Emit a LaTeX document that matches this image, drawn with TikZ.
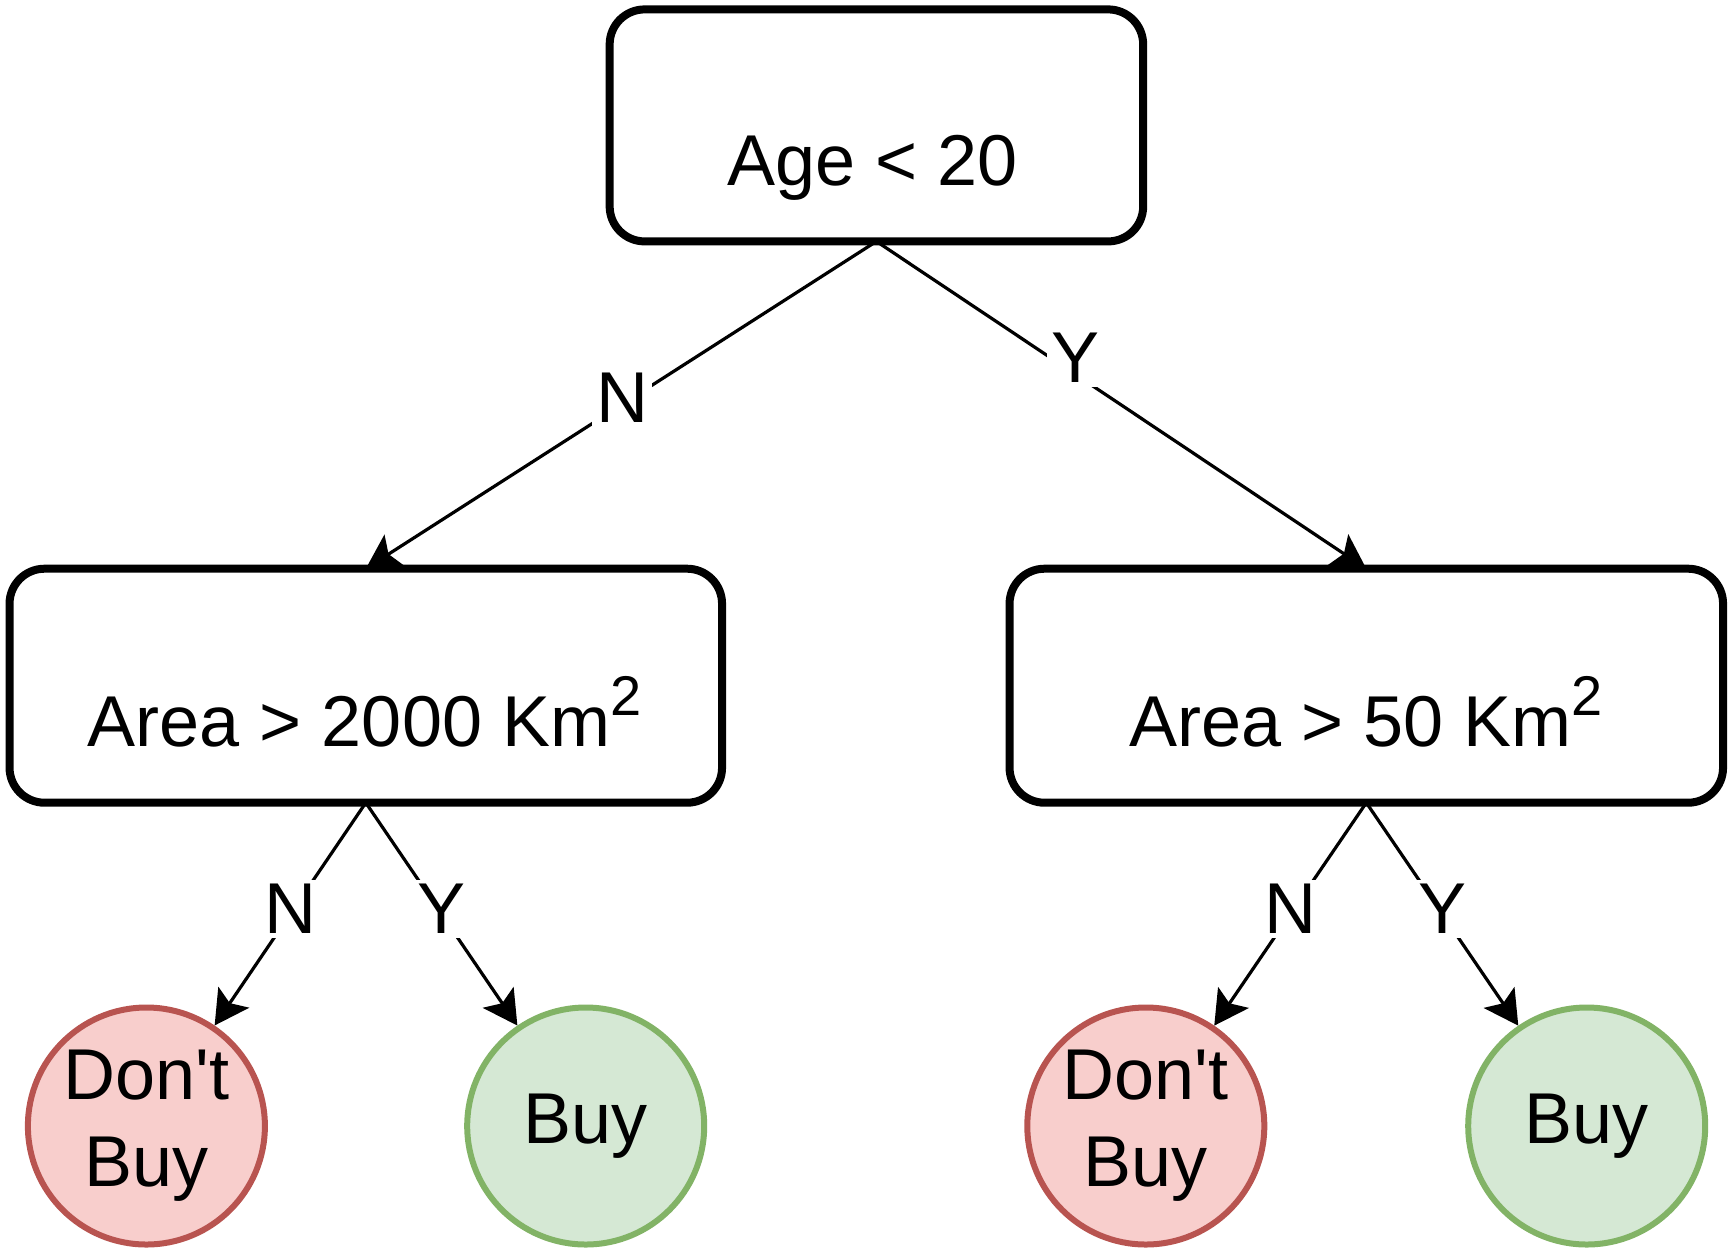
\documentclass[tikz,border=0pt]{standalone}
\usepackage{fontspec}
\newfontfamily\treefont{Liberation Sans}
\usetikzlibrary{arrows.meta,backgrounds}

\definecolor{nofill}{HTML}{F8CECC}
\definecolor{nodraw}{HTML}{B85450}
\definecolor{buyfill}{HTML}{D5E8D4}
\definecolor{buydraw}{HTML}{82B366}

\newcommand{\kmsq}{\raisebox{15.5pt}{\fontsize{28}{28}\selectfont 2}}

\tikzset{
  every node/.style={font=\treefont\fontsize{36}{43.6}\selectfont},
  question/.style={draw, line width=4pt, rounded corners=17.5pt, fill=white, outer sep=0pt},
  qtext/.style={anchor=base, inner sep=0pt},
  leaf/.style={circle, line width=3pt, minimum size=118.5pt, inner sep=0pt, align=center},
  nobuy/.style={leaf, draw=nodraw, fill=nofill},
  buy/.style={leaf, draw=buydraw, fill=buyfill},
  branch/.style={line width=1.6pt, -{Stealth[length=17pt, width=18.5pt, inset=3.5pt]}},
  answer/.style={fill=white, inner sep=2pt}
}

\begin{document}
\begin{tikzpicture}[x=0.5pt, y=-0.5pt]

\useasboundingbox (0,0) rectangle (1732,1252);

% questions
\node[question, minimum width=266.75pt, minimum height=116pt] (age) at (876.4,125.4) {};
\node[question, minimum width=356.25pt, minimum height=117pt] (area1) at (365.8,685.7) {};
\node[question, minimum width=356.75pt, minimum height=117pt] (area2) at (1366.3,685.7) {};

\node[qtext] (agetext) at (872.5,185) {Age < 20};
\node[qtext] (area1text) at (364.6,746) {Area > 2000 Km\kmsq};
\node[qtext] (area2text) at (1365.8,746) {Area > 50 Km\kmsq};

% decisions
\node[nobuy] (nobuy1) at (146.4,1126) {Don't\\Buy};
\node[buy] (buy1) at (585.7,1126) {Buy};
\node[nobuy] (nobuy2) at (1145.8,1126) {Don't\\Buy};
\node[buy] (buy2) at (1586.7,1126) {Buy};

\begin{pgfonlayer}{background}
\draw[branch] (age.south) -- (area1.north);
\draw[branch] (age.south) -- (area2.north);
\draw[branch] (area1.south) -- (nobuy1);
\draw[branch] (area1.south) -- (buy1);
\draw[branch] (area2.south) -- (nobuy2);
\draw[branch] (area2.south) -- (buy2);
\end{pgfonlayer}

% answers on the branches
\node[answer] (n0) at (622,398) {N};
\node[answer] (y0) at (1075,358) {Y};
\node[answer] (n1) at (290,909) {N};
\node[answer] (y1) at (442,909) {Y};
\node[answer] (n2) at (1290,909) {N};
\node[answer] (y2) at (1442,909) {Y};

\end{tikzpicture}
\end{document}
